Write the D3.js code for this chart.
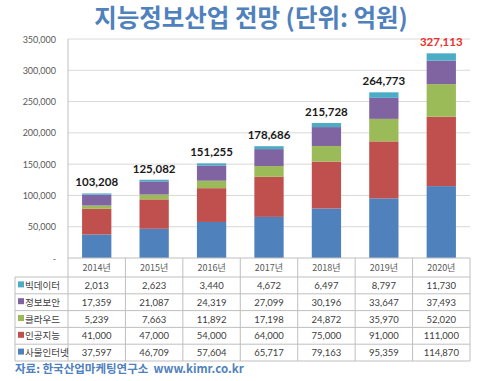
<!DOCTYPE html>
<html>
<head>
<meta charset="utf-8">
<script src="https://cdn.jsdelivr.net/npm/d3@7"></script>
<style>
  body { margin: 0; background: #fff; }
  svg text { font-family: "Lato", "Noto Sans CJK KR", sans-serif; }
  .kr { font-family: "Noto Sans CJK KR", sans-serif; }
</style>
</head>
<body>
<div id="chart"></div>
<script>
(function() {
  var width = 480,
      height = 381;

  var years = ["2014년", "2015년", "2016년", "2017년", "2018년", "2019년", "2020년"];
  // bottom to top
  var seriesNames = ["사물인터넷", "인공지능", "클라우드", "정보보안", "빅데이터"];
  var iot      = [37597, 46709, 57604, 65717, 79163, 95359, 114870];
  var ai       = [41000, 47000, 54000, 64000, 75000, 91000, 111000];
  var cloud    = [5239, 7663, 11892, 17198, 24872, 35970, 52020];
  var security = [17359, 21087, 24319, 27099, 30196, 33647, 37493];
  var bigdata  = [2013, 2623, 3440, 4672, 6497, 8797, 11730];
  var totals   = [103208, 125082, 151255, 178686, 215728, 264773, 327113];
  var yTicks   = [0, 50000, 100000, 150000, 200000, 250000, 300000, 350000];

  var colors = ["#4F81BD", "#C0504D", "#9BBB59", "#8064A2", "#4BACC6"];
  var seriesValues = [iot, ai, cloud, security, bigdata];

  var left = 68, right = 470, top = 39, bottom = 258;
  var tableLeft = 15, rowH = 16.8, headerH = 19;

  var svg = d3.select("#chart")
    .append("svg")
    .attr("width", width)
    .attr("height", height);

  var x = d3.scaleBand().domain(years).range([left, right]).paddingInner(0).paddingOuter(0);
  var y = d3.scaleLinear().domain([0, 350000]).range([bottom, top]);
  var barW = x.bandwidth() * 0.51;

  // title
  svg.append("text")
    .attr("class", "kr")
    .attr("x", 251).attr("y", 27)
    .attr("text-anchor", "middle")
    .attr("fill", "#4F81BD")
    .attr("font-size", 24.5)
    .attr("font-weight", "bold")
    .text("지능정보산업 전망 (단위: 억원)");

  // gridlines
  svg.selectAll(".grid")
    .data(yTicks.slice(1))
    .enter().append("line")
    .attr("x1", left).attr("x2", right)
    .attr("y1", function(d) { return y(d); })
    .attr("y2", function(d) { return y(d); })
    .attr("stroke", "#D9D9D9")
    .attr("stroke-width", 1);

  // y labels
  svg.selectAll(".ylab")
    .data(yTicks)
    .enter().append("text")
    .attr("x", 56)
    .attr("y", function(d) { return y(d) + 3.5; })
    .attr("text-anchor", "end")
    .attr("font-size", 9)
    .attr("fill", "#595959")
    .text(function(d) { return d === 0 ? "-" : d3.format(",")(d); });

  // stacked bars
  var stackData = years.map(function(yr, i) {
    var o = { year: yr };
    seriesNames.forEach(function(s, j) { o[s] = seriesValues[j][i]; });
    return o;
  });
  var stack = d3.stack().keys(seriesNames)(stackData);

  svg.selectAll(".layer")
    .data(stack)
    .enter().append("g")
    .attr("fill", function(d, i) { return colors[i]; })
    .selectAll("rect")
    .data(function(d) { return d; })
    .enter().append("rect")
    .attr("x", function(d) { return x(d.data.year) + (x.bandwidth() - barW) / 2; })
    .attr("width", barW)
    .attr("y", function(d) { return y(d[1]); })
    .attr("height", function(d) { return y(d[0]) - y(d[1]); });

  // totals
  svg.selectAll(".total")
    .data(totals)
    .enter().append("text")
    .attr("x", function(d, i) { return x(years[i]) + x.bandwidth() / 2; })
    .attr("y", function(d) { return y(d) - 7; })
    .attr("text-anchor", "middle")
    .attr("font-size", 11.5)
    .attr("font-weight", "bold")
    .attr("fill", function(d, i) { return i === totals.length - 1 ? "#E8302A" : "#1a1a1a"; })
    .text(function(d) { return d3.format(",")(d); });

  // data table
  var tableTop = bottom;
  var lineColor = "#BFBFBF";
  var rowsTop = tableTop + headerH;
  var tableBottom = rowsTop + rowH * 5;

  // axis line (left) extends through table
  svg.append("line")
    .attr("x1", left).attr("x2", left)
    .attr("y1", top).attr("y2", tableBottom)
    .attr("stroke", lineColor);

  // horizontal lines
  svg.append("line")
    .attr("x1", left).attr("x2", right)
    .attr("y1", tableTop).attr("y2", tableTop)
    .attr("stroke", lineColor);
  d3.range(6).forEach(function(r) {
    svg.append("line")
      .attr("x1", tableLeft).attr("x2", right)
      .attr("y1", rowsTop + r * rowH).attr("y2", rowsTop + r * rowH)
      .attr("stroke", lineColor);
  });
  // vertical lines
  svg.append("line")
    .attr("x1", tableLeft).attr("x2", tableLeft)
    .attr("y1", rowsTop).attr("y2", tableBottom)
    .attr("stroke", lineColor);
  years.forEach(function(yr) {
    var xx = x(yr) + x.bandwidth();
    svg.append("line")
      .attr("x1", xx).attr("x2", xx)
      .attr("y1", tableTop).attr("y2", tableBottom)
      .attr("stroke", lineColor);
  });

  // header years
  svg.selectAll(".yr")
    .data(years)
    .enter().append("text")
    .attr("class", "kr")
    .attr("x", function(d) { return x(d) + x.bandwidth() / 2; })
    .attr("y", tableTop + 13)
    .attr("text-anchor", "middle")
    .attr("font-size", 9)
    .attr("fill", "#595959")
    .text(function(d) { return d; });

  // rows: top to bottom = reversed series
  var order = [4, 3, 2, 1, 0];
  order.forEach(function(si, r) {
    var cy = rowsTop + r * rowH + rowH / 2;
    svg.append("rect")
      .attr("x", 18).attr("y", cy - 4)
      .attr("width", 6).attr("height", 6)
      .attr("fill", colors[si]);
    svg.append("text")
      .attr("class", "kr")
      .attr("x", 25).attr("y", cy + 3.5)
      .attr("font-size", 9.5)
      .attr("fill", "#404040")
      .text(seriesNames[si]);
    svg.selectAll(".v" + si)
      .data(seriesValues[si])
      .enter().append("text")
      .attr("x", function(d, i) { return x(years[i]) + x.bandwidth() / 2; })
      .attr("y", cy + 3.5)
      .attr("text-anchor", "middle")
      .attr("font-size", 9.5)
      .attr("fill", "#404040")
      .text(function(d) { return d3.format(",")(d); });
  });

  // source
  svg.append("text")
    .attr("class", "kr")
    .attr("x", 15).attr("y", 373)
    .attr("font-size", 11.5)
    .attr("font-weight", "bold")
    .attr("fill", "#4F81BD")
    .attr("xml:space", "preserve")
    .text("자료: 한국산업마케팅연구소  www.kimr.co.kr");
})();
</script>
</body>
</html>
